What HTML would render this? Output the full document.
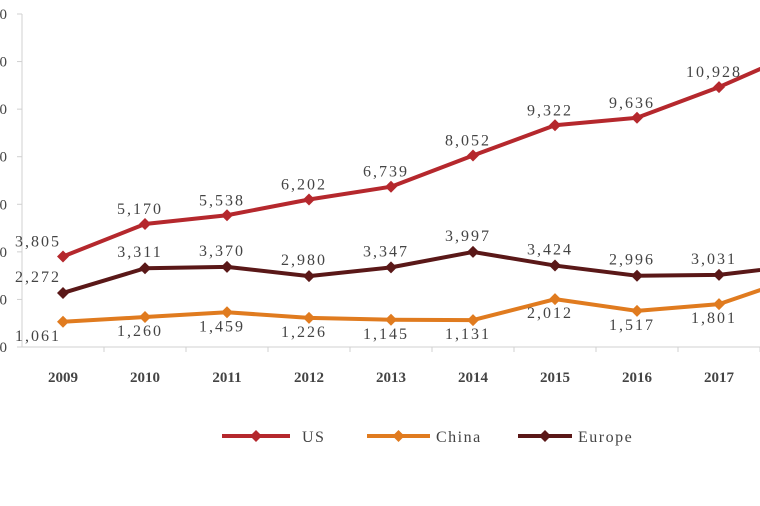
<!DOCTYPE html>
<html><head><meta charset="utf-8"><style>
html,body{margin:0;padding:0;background:#fff;width:760px;height:506px;overflow:hidden}
svg text{font-family:"Liberation Serif",serif;fill:#444}
</style></head><body>
<svg id="chart" width="760" height="506" xmlns="http://www.w3.org/2000/svg"></svg>
<script>
const years=["2009","2010","2011","2012","2013","2014","2015","2016","2017","2018"];
const usVals=[3805,5170,5538,6202,6739,8052,9322,9636,10928,12440];
const chinaVals=[1061,1260,1459,1226,1145,1131,2012,1517,1801,2980];
const europeVals=[2272,3311,3370,2980,3347,3997,3424,2996,3031,3440];
const yTicks=[0,2000,4000,6000,8000,10000,12000,14000];
const NS="http://www.w3.org/2000/svg";
const svg=document.getElementById('chart');
const x0=22,step=82,yZero=347,yMax=14000,yTop=14;
const xs=i=>x0+step/2+i*step;
const ys=v=>yZero-(v/yMax)*(yZero-yTop);
function mk(t,a,p){const e=document.createElementNS(NS,t);for(const k in a)e.setAttribute(k,a[k]);(p||svg).appendChild(e);return e;}
const ax=mk('g',{});


mk('line',{x1:x0,y1:yTop,x2:x0,y2:yZero,stroke:'#d0d0d0','stroke-width':1},ax);
mk('line',{x1:x0,y1:yZero,x2:760,y2:yZero,stroke:'#d0d0d0','stroke-width':1},ax);
yTicks.forEach(v=>{
 mk('line',{x1:x0-5,y1:ys(v),x2:x0,y2:ys(v),stroke:'#d0d0d0'},ax);
 const t=mk('text',{x:7,y:ys(v)+5,'text-anchor':'end','font-size':15},ax);t.textContent=v.toLocaleString('en-US');
 
 
});
years.forEach((y,i)=>{
 mk('line',{x1:x0+(i+1)*step,y1:yZero,x2:x0+(i+1)*step,y2:yZero+5,stroke:'#d0d0d0'},ax);
 const t=mk('text',{x:xs(i),y:382,'text-anchor':'middle','font-size':15,'font-weight':'bold','fill':'#666'},ax);t.textContent=y;
 
 
});
function diamond(cx,cy,c,g){mk('path',{d:`M${cx} ${cy-6}L${cx+6} ${cy}L${cx} ${cy+6}L${cx-6} ${cy}Z`,fill:c},g);}
function series(name,vals,color,dy){
 const g=mk('g',{});
 
 
 mk('polyline',{points:vals.map((v,i)=>xs(i)+','+ys(v)).join(' '),fill:'none',stroke:color,'stroke-width':4,'stroke-linejoin':'round'},g);
 vals.forEach((v,i)=>{
  diamond(xs(i),ys(v),color,g);
  const t=mk('text',{x:xs(i)-(i===0?25:5),y:ys(v)+dy,'text-anchor':'middle','font-size':16,'letter-spacing':'2'},g);
  t.textContent=v.toLocaleString('en-US');
  
  
 });
}
series('china',chinaVals,'#e07b1f',19);
series('europe',europeVals,'#5a1818',-11);
series('us',usVals,'#b5282d',-10);
const lg=mk('g',{});


[['US','#b5282d',222,290,302],['China','#e07b1f',367,430,436],['Europe','#5a1818',518,572,578]].forEach(d=>{
 const e=mk('g',{},lg);
 
 
 mk('line',{x1:d[2],y1:436,x2:d[3],y2:436,stroke:d[1],'stroke-width':4},e);
 diamond((d[2]+d[3])/2,436,d[1],e);
 const t=mk('text',{x:d[4],y:442,'font-size':16,'letter-spacing':'1.5'},e);t.textContent=d[0];
});
</script>
</body></html>
